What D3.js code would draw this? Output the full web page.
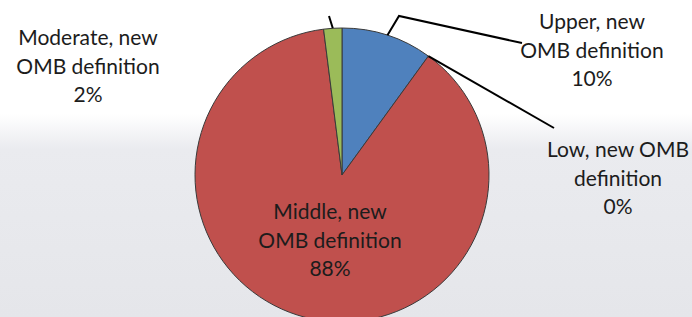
<!DOCTYPE html>
<html>
<head>
<meta charset="utf-8">
<script src="https://cdn.jsdelivr.net/npm/d3@7"></script>
<style>
  body { margin: 0; background: #fff; }
  svg { display: block; }
</style>
</head>
<body>
<div id="chart"></div>
<script>
// pie data, order as drawn clockwise from 12 o'clock
var categories = ["Upper, new OMB definition", "Low, new OMB definition", "Middle, new OMB definition", "Moderate, new OMB definition"]
var values = [10, 0, 88, 2]
var pctLabels = ["10%", "0%", "88%", "2%"]
var colors = ["#4f81bd", "#c0504d", "#c0504d", "#9bbb59"]

var width = 692, height = 317
var cx = 342, cy = 175, r = 147

var svg = d3.select("#chart").append("svg")
  .attr("width", width)
  .attr("height", height)

// slide background: white top fading into grey
var grad = svg.append("defs").append("linearGradient")
  .attr("id", "bg").attr("x1", 0).attr("y1", 0).attr("x2", 0).attr("y2", 1)
grad.append("stop").attr("offset", 0).attr("stop-color", "#ffffff")
grad.append("stop").attr("offset", 0.36).attr("stop-color", "#ffffff")
grad.append("stop").attr("offset", 0.47).attr("stop-color", "#eaebef")
grad.append("stop").attr("offset", 1).attr("stop-color", "#e5e6ea")
svg.append("rect").attr("width", width).attr("height", height).attr("fill", "url(#bg)")

var pie = d3.pie().sort(null).value(function(d) { return d })
var arcs = pie(values)
var arc = d3.arc().innerRadius(0).outerRadius(r)

var g = svg.append("g").attr("transform", "translate(" + cx + "," + cy + ")")

g.selectAll("path.slice")
  .data(arcs.filter(function(d) { return d.value > 0 }))
  .enter().append("path")
  .attr("class", "slice")
  .attr("d", arc)
  .attr("fill", function(d) { return colors[d.index] })
  .attr("stroke", "#3a3a3a")
  .attr("stroke-width", 1)

function pt(angle, rad) {
  return [Math.sin(angle) * rad, -Math.cos(angle) * rad]
}

// label layout (relative to pie center); leader lines start on the slice rim
var layout = [
  { x: 250, y: -146, pts: [[57, -159], [180, -132]], lead: "mid" },
  { x: 276, y: -18, pts: [[212, -47]], lead: "start" },
  { x: -12, y: 44, pts: null },
  { x: -254, y: -130, pts: [[-13, -159]], lead: "mid" }
]

var line = d3.line()
arcs.forEach(function(d, i) {
  var L = layout[i]
  if (!L.pts) return
  var a = L.lead == "start" ? d.startAngle : (d.startAngle + d.endAngle) / 2
  g.append("path")
    .attr("d", line([pt(a, r)].concat(L.pts)))
    .attr("fill", "none")
    .attr("stroke", "#000")
    .attr("stroke-width", 2)
})

// labels: split category at a fixed break like the original
var lines = [
  ["Upper, new", "OMB definition"],
  ["Low, new OMB", "definition"],
  ["Middle, new", "OMB definition"],
  ["Moderate, new", "OMB definition"]
]
arcs.forEach(function(d, i) {
  var L = layout[i]
  var t = g.append("text")
    .attr("x", L.x).attr("y", L.y)
    .attr("text-anchor", "middle")
    .attr("font-family", "Lato, 'Noto Sans', sans-serif")
    .attr("font-size", 21)
    .attr("fill", "#1c1c1c")
  lines[i].concat([pctLabels[i]]).forEach(function(s, j) {
    t.append("tspan").attr("x", L.x).attr("dy", j == 0 ? 0 : 28.5).text(s)
  })
})
</script>
</body>
</html>
